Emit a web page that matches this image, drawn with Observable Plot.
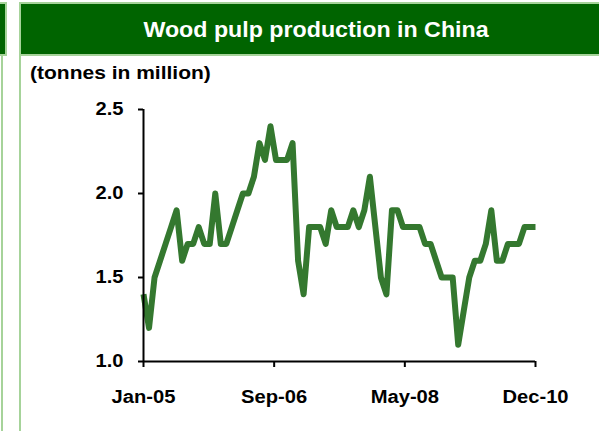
<!DOCTYPE html>
<html>
<head>
<meta charset="utf-8">
<script src="https://cdn.jsdelivr.net/npm/d3@7"></script>
<script src="https://cdn.jsdelivr.net/npm/@observablehq/plot@0.6"></script>
<style>
  html, body { margin: 0; padding: 0; background: #fff; }
  body { width: 599px; height: 431px; overflow: hidden; position: relative; font-family: "Liberation Sans", Arial, sans-serif; }
  #chart { position: absolute; left: 0; top: 0; }
  .hdr { position: absolute; background: #006400; border: 2px solid #a6d39a; box-sizing: border-box; }
  .vline { position: absolute; width: 2px; background: #a6d39a; }
  #title { position: absolute; left: 26px; top: 4px; width: 580px; height: 50px; line-height: 52px; text-align: center; color: #fff; font-weight: bold; font-size: 21.5px; transform: scaleX(1.08); transform-origin: 50% 50%; white-space: nowrap; }
  #subtitle { position: absolute; left: 30px; top: 62px; font-weight: bold; font-size: 18.5px; color: #000; transform: scaleX(1.135); transform-origin: 0 50%; white-space: nowrap; }
</style>
</head>
<body>
<div id="chart"></div>
<div class="hdr" style="left:-3px; top:2px; width:10px; height:54px;"></div>
<div class="vline" style="left:1px; top:56px; height:375px;"></div>
<div class="hdr" style="left:19px; top:2px; width:590px; height:54px;"></div>
<div class="vline" style="left:19px; top:56px; height:375px;"></div>
<div id="title">Wood pulp production in China</div>
<div id="subtitle">(tonnes in million)</div>
<script>
// Monthly wood pulp production, Jan-05 .. Dec-10 (million tonnes)
const months = d3.timeMonths(new Date(2005, 0, 1), new Date(2011, 0, 1)).map(d3.timeFormat("%b-%y"));
const production = [
  1.4, 1.2, 1.5, 1.6, 1.7, 1.8, 1.9, 1.6, 1.7, 1.7, 1.8, 1.7,
  1.7, 2.0, 1.7, 1.7, 1.8, 1.9, 2.0, 2.0, 2.1, 2.3, 2.2, 2.4,
  2.2, 2.2, 2.2, 2.3, 1.6, 1.4, 1.8, 1.8, 1.8, 1.7, 1.9, 1.8,
  1.8, 1.8, 1.9, 1.8, 1.9, 2.1, 1.8, 1.5, 1.4, 1.9, 1.9, 1.8,
  1.8, 1.8, 1.8, 1.7, 1.7, 1.6, 1.5, 1.5, 1.5, 1.1, 1.3, 1.5,
  1.6, 1.6, 1.7, 1.9, 1.6, 1.6, 1.7, 1.7, 1.7, 1.8, 1.8, 1.8
];
const xTickLabels = ["Jan-05", "Sep-06", "May-08", "Dec-10"];
const yTicks = [1.0, 1.5, 2.0, 2.5];

const data = production.map((v, i) => ({i, month: months[i], v}));
const n = production.length;
const xTickPos = xTickLabels.map((_, k) => k * (n - 1) / (xTickLabels.length - 1));

const chart = Plot.plot({
  width: 599,
  height: 431,
  marginLeft: 143,
  marginRight: 64,
  marginTop: 109,
  marginBottom: 70,
  style: {background: "transparent", fontFamily: "Liberation Sans, Arial, sans-serif", fontWeight: "bold", color: "#000"},
  x: {domain: [0, n - 1]},
  y: {domain: [1.0, 2.5]},
  marks: [
    Plot.line(data, {x: "i", y: "v", stroke: "#34782f", strokeWidth: 6, strokeLinejoin: "round", strokeLinecap: "butt"}),
    Plot.ruleY([1.0], {stroke: "#000", strokeWidth: 2, x1: 0, x2: n - 1}),
    Plot.ruleX([0], {stroke: "#000", strokeWidth: 2, y1: 1.0, y2: 2.5}),
    Plot.axisY({ticks: yTicks, tickFormat: d => d.toFixed(1), tickSize: 5, tickPadding: 15, fontSize: 18, fontWeight: "bold", strokeWidth: 2, label: null}),
    Plot.axisX({ticks: xTickPos, tickFormat: (d, k) => xTickLabels[k], tickSize: 6, tickPadding: 23, fontSize: 18, fontWeight: "bold", strokeWidth: 2, label: null})
  ]
});
document.getElementById("chart").appendChild(chart);
// the reference's lettering is slightly wider than Arial: stretch tick labels
d3.select(chart).selectAll("g[aria-label$='tick label'] text").each(function() {
  const w = this.getComputedTextLength();
  this.setAttribute("textLength", (w * 1.12).toFixed(1));
  this.setAttribute("lengthAdjust", "spacingAndGlyphs");
});
</script>
</body>
</html>
